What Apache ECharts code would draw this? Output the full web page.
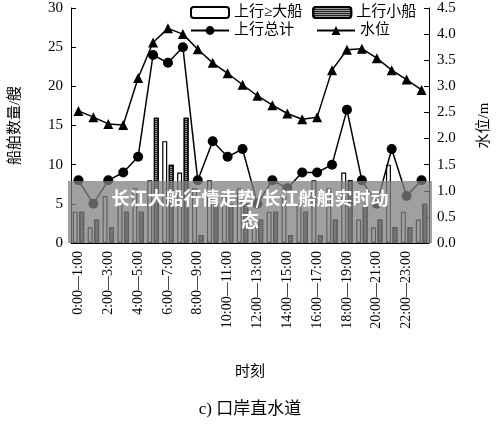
<!DOCTYPE html><html><head><meta charset="utf-8">
<script src="https://cdn.jsdelivr.net/npm/echarts@6/dist/echarts.min.js"></script>
<style>body{margin:0}#c{width:500px;height:425px}</style></head><body><div id="c"></div>
<script>
const hours=['0:00—1:00','1:00—2:00','2:00—3:00','3:00—4:00','4:00—5:00','5:00—6:00','6:00—7:00','7:00—8:00','8:00—9:00','9:00—10:00','10:00—11:00','11:00—12:00','12:00—13:00','13:00—14:00','14:00—15:00','15:00—16:00','16:00—17:00','17:00—18:00','18:00—19:00','19:00—20:00','20:00—21:00','21:00—22:00','22:00—23:00','23:00—24:00'];
const bigShips=[4,2,6,5,7,8,13,9,7,8,6,7,2,4,6,5,8,7,9,3,2,10,4,3];
const smallShips=[4,3,2,4,4,16,10,16,1,5,5,5,3,4,1,4,1,3,8,5,3,2,2,5];
const totalShips=[8,5,8,9,11,24,23,25,8,13,11,12,5,8,7,9,9,10,17,8,5,12,6,8];
const waterLevel=[2.53,2.41,2.28,2.26,3.16,3.84,4.11,4.0,3.71,3.45,3.25,3.03,2.82,2.64,2.48,2.37,2.41,3.31,3.7,3.72,3.54,3.31,3.13,2.93];
const F='"Liberation Serif","Noto Sans CJK SC",serif';
const ch=echarts.init(document.getElementById('c'));
ch.setOption({
 animation:false,
 textStyle:{fontFamily:F,color:'#000'},
 grid:{left:68,right:68,top:8,bottom:182},
 legend:[{left:185,top:0,itemWidth:38,itemHeight:11,itemGap:10,textStyle:{fontSize:15,fontFamily:F,color:'#000'},data:['上行≥大船','上行小船']},
   {left:185,top:18,itemWidth:38,itemHeight:11,itemGap:22,textStyle:{fontSize:15,fontFamily:F,color:'#000'},data:['上行总计','水位']}],
 xAxis:{type:'category',data:hours,name:'时刻',nameLocation:'middle',nameGap:122,nameTextStyle:{fontSize:15,fontFamily:F},
   axisLine:{lineStyle:{color:'#000'}},axisTick:{show:false},
   axisLabel:{rotate:90,interval:1,fontSize:14,fontFamily:F,color:'#000'}},
 yAxis:[{type:'value',min:0,max:30,interval:5,name:'船舶数量/艘',nameLocation:'middle',nameGap:48,nameRotate:90,nameTextStyle:{fontSize:15,fontFamily:F},
   axisLine:{show:true,lineStyle:{color:'#000'}},axisTick:{show:true,inside:true},splitLine:{show:false},axisLabel:{fontSize:15,fontFamily:F,color:'#000'}},
  {type:'value',min:0,max:4.5,interval:0.5,name:'水位/m',nameLocation:'middle',nameGap:48,nameRotate:90,nameTextStyle:{fontSize:15,fontFamily:F},
   axisLine:{show:true,lineStyle:{color:'#000'}},axisTick:{show:true,inside:true},splitLine:{show:false},axisLabel:{fontSize:15,fontFamily:F,color:'#000',formatter:v=>v.toFixed(1)}}],
 series:[
  {name:'上行≥大船',type:'bar',data:bigShips,barWidth:5,barGap:'30%',itemStyle:{color:'#fff',borderColor:'#000',borderWidth:1.2}},
  {name:'上行小船',type:'bar',data:smallShips,barWidth:5,itemStyle:{color:'#999',borderColor:'#000',borderWidth:1.2,decal:{symbol:'rect',color:'#222',dashArrayX:[1,0],dashArrayY:[1,1],rotation:0}}},
  {name:'上行总计',type:'line',data:totalShips,symbol:'circle',symbolSize:10,showAllSymbol:true,lineStyle:{color:'#000',width:1.5},itemStyle:{color:'#000'}},
  {name:'水位',type:'line',yAxisIndex:1,data:waterLevel,symbol:'triangle',symbolSize:10,showAllSymbol:true,lineStyle:{color:'#000',width:1.5},itemStyle:{color:'#000'}}
 ],
 graphic:[
  {type:'rect',left:68,top:181,shape:{width:364,height:62},style:{fill:'rgba(128,128,128,0.75)'},z:100},
  {type:'text',x:250,y:187,style:{text:'长江大船行情走势/长江船舶实时动\n态',fill:'#fff',font:'bold 18px "Noto Sans CJK SC"',align:'center',lineHeight:22},z:101},
  {type:'text',x:250,y:401,style:{text:'c) 口岸直水道',fill:'#000',font:'17px "Liberation Serif","Noto Sans CJK SC"',align:'center'}}
 ]
});
</script></body></html>
